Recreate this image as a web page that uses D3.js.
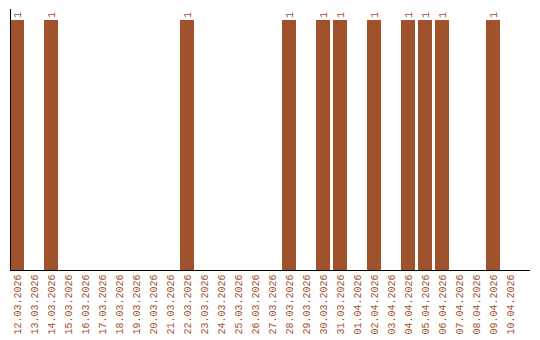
<!DOCTYPE html>
<html lang="en">
    <head>
        <meta charset="utf-8">
        <style>
            body { margin: 0; background: #fff; }
            text { font-family: "Liberation Mono", monospace; font-size: 10px; fill: #a0522d; }
        </style>
    </head>
    <body>
        <svg id="mysvg" width="540" height="340"></svg>

        <script src="https://cdn.jsdelivr.net/npm/d3@7"></script>
        <script>
            var dates = ["12.03.2026","13.03.2026","14.03.2026","15.03.2026","16.03.2026",
                "17.03.2026","18.03.2026","19.03.2026","20.03.2026","21.03.2026",
                "22.03.2026","23.03.2026","24.03.2026","25.03.2026","26.03.2026",
                "27.03.2026","28.03.2026","29.03.2026","30.03.2026","31.03.2026",
                "01.04.2026","02.04.2026","03.04.2026","04.04.2026","05.04.2026",
                "06.04.2026","07.04.2026","08.04.2026","09.04.2026","10.04.2026"];
            var counts = [1,0,1,0,0, 0,0,0,0,0, 1,0,0,0,0, 0,1,0,1,1, 0,1,0,1,1, 1,0,0,1,0];

            var mLeft = 10, mRight = 530, mTop = 20, mBottom = 270;
            var svg = d3.select("#mysvg");

            var x = d3.scaleBand()
                .domain(dates)
                .range([mLeft, mRight])
                .paddingInner(3/17)
                .paddingOuter(13/34)
                .align(0);

            var y = d3.scaleLinear()
                .domain([0, d3.max(counts)])
                .range([mBottom, mTop]);

            var data = dates.map(function(d, i){ return {date: d, value: counts[i]}; });
            var nonZero = data.filter(function(d){ return d.value > 0; });

            // bars
            svg.selectAll("rect.bar")
                .data(nonZero)
                .enter()
                .append("rect")
                .attr("class", "bar")
                .attr("x", function(d){ return Math.round(x(d.date)); })
                .attr("y", function(d){ return y(d.value); })
                .attr("width", Math.round(x.bandwidth()))
                .attr("height", function(d){ return y(0) - y(d.value); })
                .attr("fill", "#a0522d");

            // value labels
            svg.selectAll("text.val")
                .data(nonZero)
                .enter()
                .append("text")
                .attr("class", "val")
                .attr("transform", function(d){
                    return "translate(" + (x(d.date) + x.bandwidth()/2) + "," + (y(d.value) - 2) + ") rotate(-90)";
                })
                .attr("dy", "0.35em")
                .attr("text-anchor", "start")
                .text(function(d){ return d.value; });

            // axes
            svg.append("line")
                .attr("x1", mLeft + 0.5).attr("x2", mLeft + 0.5)
                .attr("y1", 9).attr("y2", mBottom)
                .attr("stroke", "black");
            svg.append("line")
                .attr("x1", mLeft).attr("x2", mRight)
                .attr("y1", mBottom + 0.5).attr("y2", mBottom + 0.5)
                .attr("stroke", "black");

            // date labels
            svg.selectAll("text.tick")
                .data(dates)
                .enter()
                .append("text")
                .attr("class", "tick")
                .attr("transform", function(d){
                    return "translate(" + (x(d) + x.bandwidth()/2) + "," + (mBottom + 4.5) + ") rotate(-90)";
                })
                .attr("dy", "0.35em")
                .attr("text-anchor", "end")
                .text(function(d){ return d; });
        </script>
    </body>
</html>
